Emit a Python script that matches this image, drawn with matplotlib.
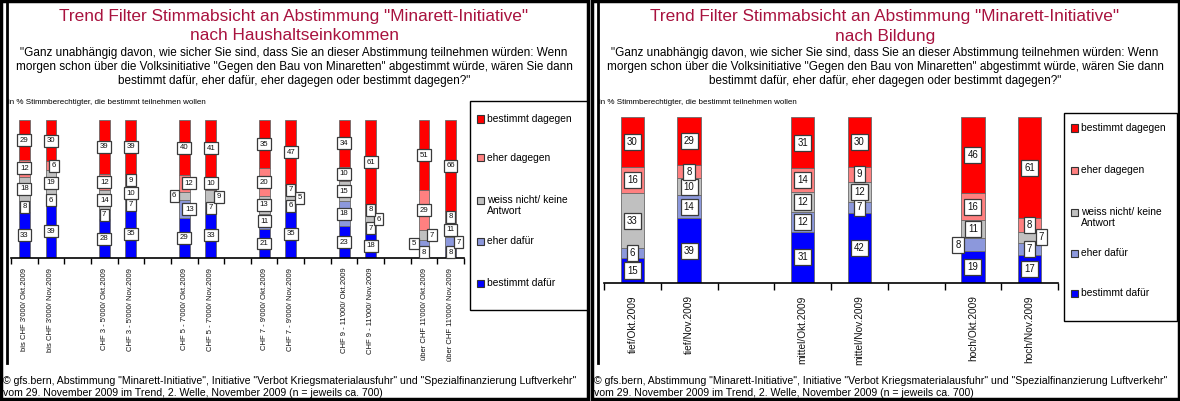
import matplotlib
matplotlib.use('Agg')
import matplotlib.pyplot as plt
from matplotlib.patches import Rectangle
from matplotlib.lines import Line2D
import matplotlib.transforms as mtransforms
import numpy as np

plt.rcParams['font.family'] = ['Liberation Sans', 'DejaVu Sans']

# ---------------- data ----------------
series_names = ["bestimmt dafür", "eher dafür", "weiss nicht/ keine\nAntwort",
                "eher dagegen", "bestimmt dagegen"]
series_colors = ['#0000FF', '#8C98DC', '#C0C0C0', '#FF8080', '#FF0000']

# income panel ('' = empty category slot)
inc_categories = ["bis CHF 3'000/ Okt.2009", "bis CHF 3'000/ Nov.2009", "",
                  "CHF 3 - 5'000/ Okt.2009", "CHF 3 - 5'000/ Nov.2009", "",
                  "CHF 5 - 7'000/ Okt.2009", "CHF 5 - 7'000/ Nov.2009", "",
                  "CHF 7 - 9'000/ Okt.2009", "CHF 7 - 9'000/ Nov.2009", "",
                  "CHF 9 - 11'000/ Okt.2009", "CHF 9 - 11'000/ Nov.2009", "",
                  "über CHF 11'000/ Okt.2009", "über CHF 11'000/ Nov.2009"]
inc_bestimmt_dafuer = [33, 39, 28, 35, 29, 33, 21, 35, 23, 18, 8, 8]
inc_eher_dafuer = [8, 6, 7, 7, 13, 7, 11, 6, 18, 7, 5, 7]
inc_weiss_nicht = [18, 19, 14, 10, 6, 9, 13, 5, 15, 6, 7, 11]
inc_eher_dagegen = [12, 6, 12, 9, 12, 10, 20, 7, 10, 8, 29, 8]
inc_bestimmt_dagegen = [29, 30, 39, 39, 40, 41, 35, 47, 34, 61, 51, 66]

# education panel
edu_categories = ["tief/Okt.2009", "tief/Nov.2009", "",
                  "mittel/Okt.2009", "mittel/Nov.2009", "",
                  "hoch/Okt.2009", "hoch/Nov.2009"]
edu_bestimmt_dafuer = [15, 39, 31, 42, 19, 17]
edu_eher_dafuer = [6, 14, 12, 7, 8, 7]
edu_weiss_nicht = [33, 10, 12, 12, 11, 7]
edu_eher_dagegen = [16, 8, 14, 9, 16, 8]
edu_bestimmt_dagegen = [30, 29, 31, 30, 46, 61]

title_line1 = 'Trend Filter Stimmabsicht an Abstimmung "Minarett-Initiative"'
inc_title2 = "nach Haushaltseinkommen"
edu_title2 = "nach Bildung"
question = ['"Ganz unabhängig davon, wie sicher Sie sind, dass Sie an dieser Abstimmung teilnehmen würden: Wenn',
            'morgen schon über die Volksinitiative "Gegen den Bau von Minaretten" abgestimmt würde, wären Sie dann',
            'bestimmt dafür, eher dafür, eher dagegen oder bestimmt dagegen?"']
base_note = "in % Stimmberechtigter, die bestimmt teilnehmen wollen"
footer = ['© gfs.bern, Abstimmung "Minarett-Initiative", Initiative "Verbot Kriegsmaterialausfuhr" und "Spezialfinanzierung Luftverkehr"',
          'vom 29. November 2009 im Trend, 2. Welle, November 2009 (n = jeweils ca. 700)']

# label displacement (pixels) for labels Excel pushed aside: (bar, series) -> dx
inc_label_dx = {(1, 3): 3, (4, 1): 5, (4, 2): -10, (4, 3): 5, (5, 2): 8,
                (7, 2): 9, (9, 2): 8, (10, 1): -10, (10, 2): 8, (11, 1): 8}
edu_label_dx = {(4, 1): -15, (5, 2): 12}

# ---------------- figure ----------------
W, H = 1180, 401
fig = plt.figure(figsize=(W / 100, H / 100), dpi=100)
fig.patch.set_facecolor('white')
renderer = fig.canvas.get_renderer()


def fx(x):
    return x / W


def fy(y):
    return 1 - y / H


def size_for(text, target, base=10.0, rotation=0):
    t = fig.text(0, 0, text, fontsize=base, rotation=rotation)
    bb = t.get_window_extent(renderer)
    t.remove()
    ext = bb.width if rotation == 0 else bb.height
    return base * target / ext


TITLE_COLOR = '#A8123E'
fs_title = size_for(title_line1, 470)
fs_q = size_for(question[0], 546)
fs_note = size_for(base_note, 200)
fs_foot = size_for(footer[0], 576)
fs_leg = size_for("bestimmt dafür", 68)
fs_tick_inc = size_for(inc_categories[0], 84, rotation=90)
fs_tick_edu = size_for(edu_categories[0], 58, rotation=90)


def draw_panel(x0, title2, categories, values, label_dx, ax_px, tick_fs, tick_pad,
               val_fs, legend_px, legend_ys, tick_len):
    cx = x0 + 294
    # frame
    fig.add_artist(Rectangle((fx(x0 + 1), fy(399)), 587 / W, 398 / H,
                             transform=fig.transFigure, fill=False,
                             ec='black', lw=2.5))
    fig.add_artist(Line2D([fx(x0 + 7)] * 2, [fy(2), fy(363)],
                          transform=fig.transFigure, color='black', lw=2))
    # titles
    fig.text(fx(cx), fy(17), title_line1, color=TITLE_COLOR, fontsize=fs_title,
             ha='center', va='center')
    fig.text(fx(cx), fy(36), title2, color=TITLE_COLOR, fontsize=fs_title,
             ha='center', va='center')
    for i, line in enumerate(question):
        fig.text(fx(cx), fy(53 + 14 * i), line, fontsize=fs_q,
                 ha='center', va='center')
    fig.text(fx(x0 + 8), fy(103), base_note, fontsize=fs_note,
             ha='left', va='center')
    for i, line in enumerate(footer):
        fig.text(fx(x0 + 3), fy(381 + 12 * i), line, fontsize=fs_foot,
                 ha='left', va='center')

    # axes
    l, r, t, b = ax_px
    ax = fig.add_axes([fx(l), fy(b), (r - l) / W, (b - t) / H])
    n = len(categories)
    ax.set_xlim(-0.5, n - 0.5)
    ax.set_ylim(0, 100)
    ax.patch.set_alpha(0)
    for s in ['top', 'right', 'left']:
        ax.spines[s].set_visible(False)
    ax.spines['bottom'].set_color('black')
    ax.spines['bottom'].set_linewidth(1.2)
    pos = [i for i, c in enumerate(categories) if c]
    labs = [c for c in categories if c]
    ax.set_yticks([])
    ax.set_xticks(np.arange(-0.5, n, 1.0))
    ax.set_xticklabels([])
    ax.tick_params(axis='x', which='major', length=tick_len, width=1,
                   direction='out', color='black')
    ax.set_xticks(pos, minor=True)
    ax.set_xticklabels(labs, minor=True, rotation=90, fontsize=tick_fs,
                       va='top', ha='center', color='#111111')
    ax.tick_params(axis='x', which='minor', length=0, pad=tick_pad)

    bottom = np.zeros(len(pos))
    for s, vals in enumerate(values):
        vals = np.array(vals, dtype=float)
        ax.bar(pos, vals, bottom=bottom, width=0.41, color=series_colors[s],
               edgecolor='#6a6a6a', linewidth=0.6, zorder=2)
        for i, v in enumerate(vals):
            dx = label_dx.get((i, s), 0)
            tr = mtransforms.offset_copy(ax.transData, fig=fig, x=dx, y=0,
                                         units='dots')
            ax.text(pos[i], bottom[i] + v / 2, f"{int(v)}", transform=tr,
                    ha='center', va='center', fontsize=val_fs, color='#111111',
                    zorder=5, clip_on=False,
                    bbox=dict(boxstyle='square,pad=0.32', fc='white',
                              ec='#3a3a3a', lw=0.9))
        bottom += vals

    # legend
    lx0, lx1, ly0, ly1 = legend_px
    fig.add_artist(Rectangle((fx(lx0), fy(ly1)), (lx1 - lx0) / W, (ly1 - ly0) / H,
                             transform=fig.transFigure, fill=True, fc='white',
                             ec='black', lw=1.0))
    for k, s in enumerate(range(4, -1, -1)):
        y = legend_ys[k]
        fig.add_artist(Rectangle((fx(lx0 + 7), fy(y + 3.5)), 7 / W, 7 / H,
                                 transform=fig.transFigure, fc=series_colors[s],
                                 ec='#333333', lw=0.8))
        name = series_names[s]
        if '\n' in name:
            fig.text(fx(lx0 + 17), fy(y - 5), name, fontsize=fs_leg,
                     ha='left', va='top', linespacing=1.15)
        else:
            fig.text(fx(lx0 + 17), fy(y), name, fontsize=fs_leg,
                     ha='left', va='center')


inc_values = [inc_bestimmt_dafuer, inc_eher_dafuer, inc_weiss_nicht,
              inc_eher_dagegen, inc_bestimmt_dagegen]
edu_values = [edu_bestimmt_dafuer, edu_eher_dafuer, edu_weiss_nicht,
              edu_eher_dagegen, edu_bestimmt_dagegen]

draw_panel(0, inc_title2, inc_categories, inc_values, inc_label_dx,
           (11, 464, 120, 258), fs_tick_inc, 7, 5.6,
           (470, 587, 101, 310), [119, 158, 200, 241, 283], 4)
draw_panel(591, edu_title2, edu_categories, edu_values, edu_label_dx,
           (604, 1058, 117, 283), fs_tick_edu, 9, 6.9,
           (1064, 1177, 113, 321), [128, 170, 212, 253, 293], 5)

fig.savefig('out.png', dpi=100, facecolor='white')
